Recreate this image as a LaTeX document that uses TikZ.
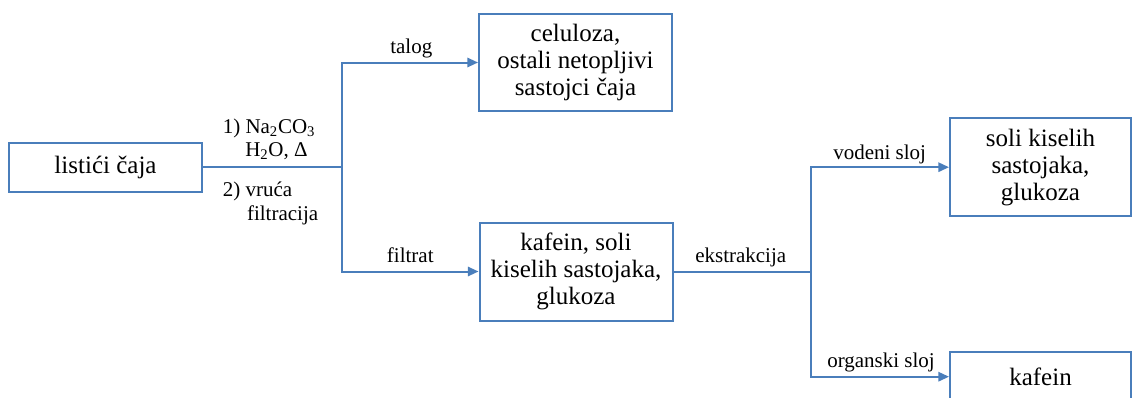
\documentclass[tikz,border=0pt]{standalone}
\usepackage{fontspec}
\setmainfont{LiberationSerif}[Extension=.ttf, UprightFont=*-Regular, BoldFont=*-Bold, ItalicFont=*-Italic]
\usetikzlibrary{arrows.meta}
\definecolor{lineblue}{HTML}{4A7EBB}
\tikzset{
  box/.style={draw=lineblue, line width=1.5pt, inner sep=0pt, align=center,
    font=\fontsize{18.75}{20.25}\selectfont},
  lbl/.style={inner sep=0pt, anchor=base west, font=\fontsize{15.75}{18}\selectfont},
  conn/.style={draw=lineblue, line width=1.5pt},
  arr/.style={conn, -{Triangle[length=8pt,width=7pt]}}
}
\begin{document}
\begin{tikzpicture}[x=0.75pt,y=-0.75pt]
\useasboundingbox (0,0) rectangle (1132,397);
\clip (0,0) rectangle (1132,397);
\node[box, minimum width=144.4pt, minimum height=36.75pt] (leaves) at (105.5,167.2) {listići čaja};
\node[box, minimum width=144.75pt, minimum height=72.75pt] (talogbox) at (575.5,62.5) {celuloza,\\ostali netopljivi\\sastojci čaja};
\node[box, minimum width=144.75pt, minimum height=73.5pt] (filtratbox) at (576,271.5) {kafein, soli\\kiselih sastojaka,\\glukoza};
\node[box, minimum width=135.75pt, minimum height=73.3pt] (vodbox) at (1040.5,167.2) {soli kiselih\\sastojaka,\\glukoza};
\node[box, minimum width=135.75pt, minimum height=37.5pt] (orgbox) at (1040.5,376.7) {kafein};
\coordinate (split1) at (341.7,167.2);
\coordinate (split2) at (811,271.5);
\draw[conn] (leaves.east) -- (split1);
\draw[arr] (split1) |- (talogbox.west);
\draw[arr] (split1) |- (filtratbox.west);
\draw[conn] (filtratbox.east) -- (split2);
\draw[arr] (split2) |- (vodbox.west);
\draw[arr] (split2) |- (orgbox.west);
\node[lbl, anchor=north west, align=left, font=\fontsize{15.75}{16.8}\selectfont] (cond1) at (222.5,119) {1) Na\textsubscript{2}CO\textsubscript{3}\\\hspace*{16.9pt}H\textsubscript{2}O, Δ};
\node[lbl, anchor=north west, align=left, font=\fontsize{15.75}{17.6}\selectfont] (cond2) at (222.5,182) {2) vruća\\\hspace*{18.2pt}filtracija};
\node[lbl] (ltalog) at (390,53) {talog};
\node[lbl] (lfiltrat) at (386.7,262.7) {filtrat};
\node[lbl] (lekstr) at (695,262.7) {ekstrakcija};
\node[lbl] (lvod) at (833,159) {vodeni sloj};
\node[lbl] (lorg) at (827,367) {organski sloj};
\end{tikzpicture}
\end{document}
